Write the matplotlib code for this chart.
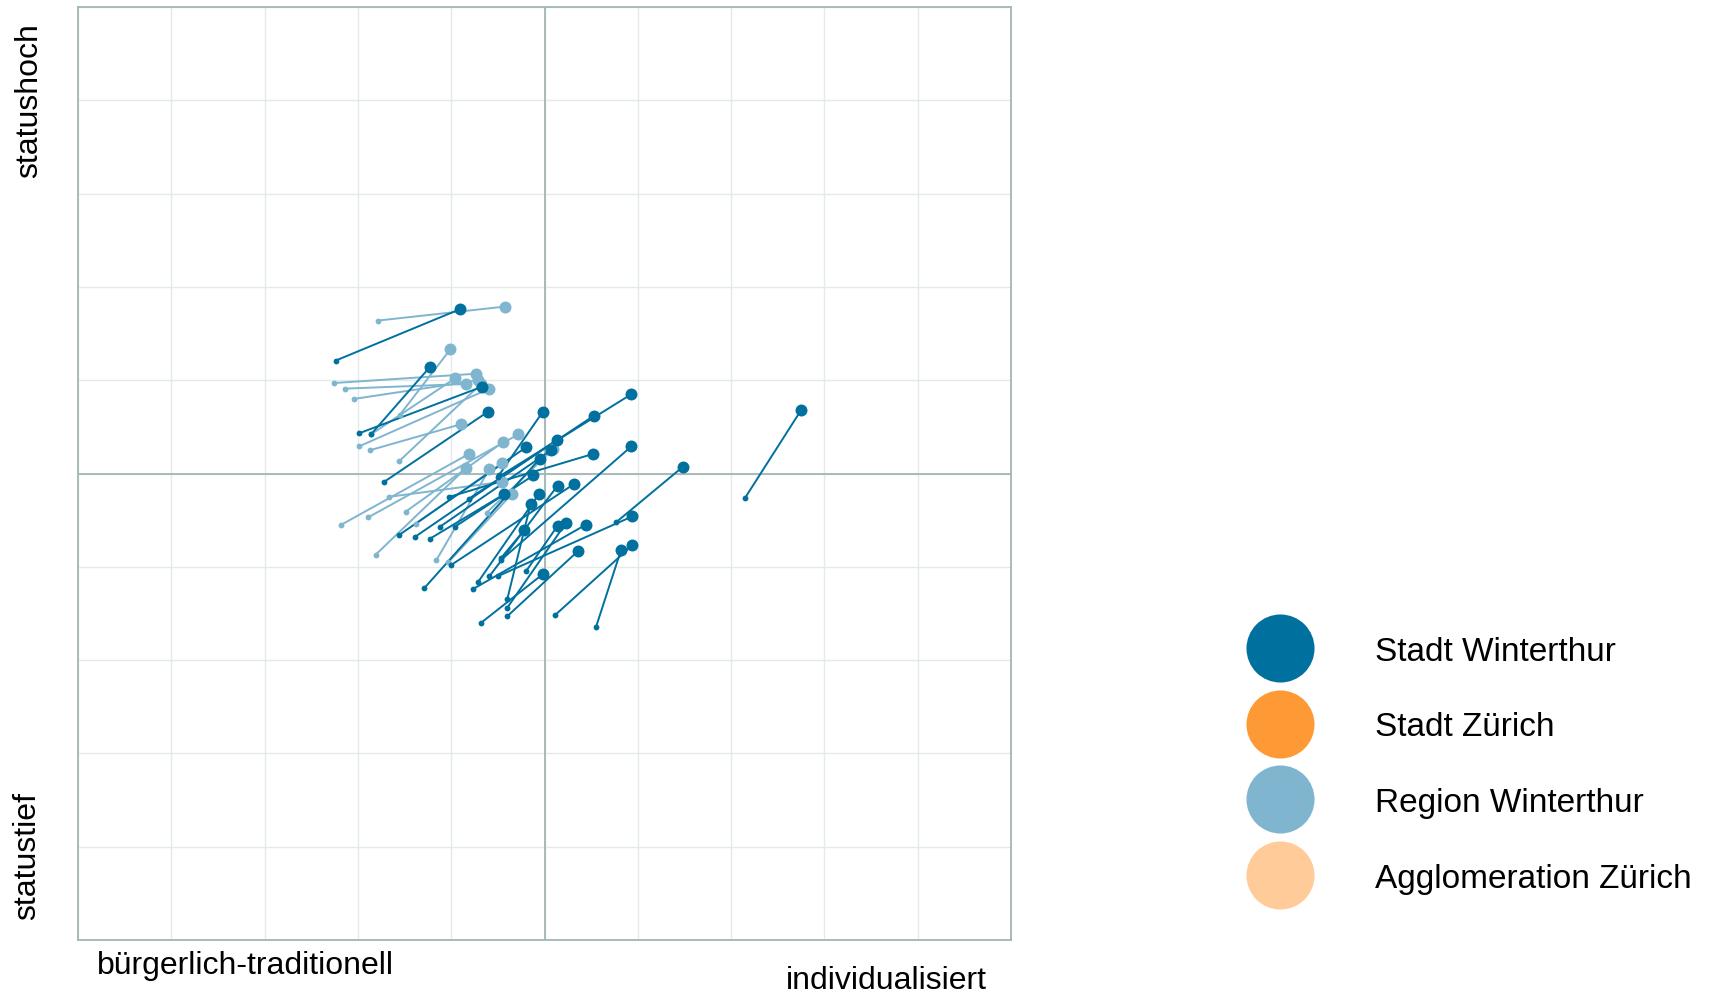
import matplotlib
matplotlib.use("Agg")
import matplotlib.pyplot as plt
from matplotlib.lines import Line2D

# colours per region
c_win = '#00709E'
c_zh = '#FD9A35'
c_reg = '#7FB5CF'
c_agg = '#FFCB99'

# Region Winterthur: start (small dot) -> end (big dot)
reg_x0 = [-1.78, -2.26, -2.14, -2.04, -1.55, -1.86, -1.99, -1.87, -1.56,
          -2.18, -1.89, -1.81, -1.49, -1.16, -1.38, -1.03, -1.67, -0.62]
reg_y0 = [1.64, 0.97, 0.91, 0.80, 0.63, 0.42, 0.29, 0.25, 0.13,
          -0.55, -0.47, -0.87, -0.41, -0.93, -0.54, -0.95, -0.25, -0.42]
reg_x1 = [-0.42, -0.73, -0.84, -0.71, -1.01, -0.96, -0.59, -0.89, -0.68,
          -0.81, -0.28, -0.84, -0.44, -0.59, -0.46, -0.35, -0.46, 0.09]
reg_y1 = [1.79, 1.07, 0.96, 1.00, 1.33, 1.02, 0.91, 0.53, 0.96,
          0.21, 0.42, 0.06, 0.34, 0.05, 0.11, -0.22, -0.09, 0.26]

# Stadt Winterthur
win_x0 = [-2.24, -1.86, -1.99, -1.72, -0.49, -0.81, -0.50, -1.56, -1.39, -1.12,
          -1.29, -1.02, -0.47, -0.96, -1.23, -0.71, -0.59, -1.00, -0.40, 0.77,
          2.15, -0.20, -0.50, -0.40, -0.68, 0.11, 0.55, -0.40, -0.47, -0.77]
win_y0 = [1.21, 0.42, 0.43, -0.09, -0.02, -0.27, -0.04, -0.66, -0.68, -0.57,
          -1.23, -0.25, -0.93, -0.57, -0.70, -1.16, -1.10, -0.98, -1.35, -0.52,
          -0.26, -1.05, -1.10, -1.44, -1.60, -1.52, -1.65, -1.53, -0.91, -1.24]
win_x1 = [-0.91, -1.23, -0.67, -0.61, -0.02, 0.53, 0.93, -0.20, 0.13, 0.07,
          -0.05, 0.52, 0.93, -0.12, -0.43, -0.06, 0.14, 0.32, -0.15, 1.48,
          2.75, 0.14, 0.94, 0.23, -0.02, 0.94, 0.82, 0.36, -0.22, 0.44]
win_y1 = [1.76, 1.14, 0.93, 0.66, 0.66, 0.62, 0.85, 0.28, 0.36, 0.25,
          0.16, 0.21, 0.29, -0.02, -0.22, -0.22, -0.13, -0.11, -0.33, 0.07,
          0.68, -0.56, -0.46, -0.53, -1.08, -0.77, -0.82, -0.83, -0.61, -0.55]

legend_labels = ['Stadt Winterthur', 'Stadt Zürich', 'Region Winterthur', 'Agglomeration Zürich']
legend_colors = [c_win, c_zh, c_reg, c_agg]

plt.rcParams['font.family'] = ['Liberation Sans', 'DejaVu Sans']

fig = plt.figure(figsize=(17.13, 9.96), dpi=100)
ax = fig.add_axes([0.04553, 0.05622, 0.5447, 0.9367])
ax.set_xlim(-5, 5)
ax.set_ylim(-5, 5)
ax.set_xticks(range(-5, 6))
ax.set_yticks(range(-5, 6))
ax.tick_params(length=0, labelbottom=False, labelleft=False)
ax.grid(True, color='#E2EAEA', lw=1.0)
ax.set_axisbelow(True)
for s in ax.spines.values():
    s.set_color('#A3B5B5')
    s.set_linewidth(1.3)
ax.axhline(0, color='#A3B5B5', lw=1.3, zorder=1)
ax.axvline(0, color='#A3B5B5', lw=1.3, zorder=1)


def draw_group(x0, y0, x1, y1, col):
    for a, b, c, d in zip(x0, y0, x1, y1):
        ax.plot([a, c], [b, d], color=col, lw=1.4, zorder=2)
    ax.plot(x0, y0, 'o', color=col, ms=4.2, mew=0, zorder=3)
    ax.plot(x1, y1, 'o', color=col, ms=8.6, mew=0, zorder=3)


draw_group(reg_x0, reg_y0, reg_x1, reg_y1, c_reg)
draw_group(win_x0, win_y0, win_x1, win_y1, c_win)

# axis captions
fig.text(29.5 / 1713, 1 - 23 / 996, 'statushoch', rotation=90, ha='center', va='top', fontsize=23)
fig.text(27.5 / 1713, 1 - 920 / 996, 'statustief', rotation=90, ha='center', va='bottom', fontsize=23)
fig.text(97 / 1713, 1 - 966 / 996, 'bürgerlich-traditionell', ha='left', va='center', fontsize=23)
fig.text(786 / 1713, 1 - 981 / 996, 'individualisiert', ha='left', va='center', fontsize=23)

handles = [Line2D([], [], marker='o', ls='', ms=49, mew=0, color=c) for c in legend_colors]
fig.legend(handles, legend_labels, loc='center left', bbox_to_anchor=(1238 / 1713, 1 - 765 / 996),
           frameon=False, fontsize=24, handlelength=2.5, handletextpad=1.6,
           handleheight=0.9, labelspacing=1.30, borderpad=0, borderaxespad=0)

fig.savefig('out.png', dpi=100)
